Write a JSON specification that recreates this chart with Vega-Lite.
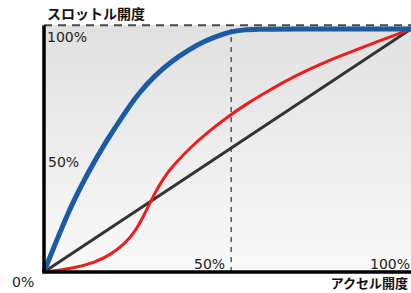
{
  "$schema": "https://vega.github.io/schema/vega-lite/v6.json",
  "width": 367,
  "height": 243,
  "autosize": {"type": "none"},
  "padding": {"left": 44, "top": 29, "right": 0, "bottom": 21},
  "background": "white",
  "config": {"view": {"stroke": null}},
  "datasets": {
    "curves": [
      {"s": "black", "x": 0, "y": 0}, {"s": "black", "x": 100, "y": 100},
      {"s": "red", "x": 0, "y": 0}, {"s": "red", "x": 8, "y": 1.5}, {"s": "red", "x": 14, "y": 4},
      {"s": "red", "x": 18, "y": 7}, {"s": "red", "x": 22, "y": 11.5}, {"s": "red", "x": 25, "y": 17},
      {"s": "red", "x": 27.5, "y": 24}, {"s": "red", "x": 30, "y": 32}, {"s": "red", "x": 32.5, "y": 38.5},
      {"s": "red", "x": 35, "y": 43.5}, {"s": "red", "x": 40, "y": 51.5}, {"s": "red", "x": 45, "y": 58},
      {"s": "red", "x": 50, "y": 63.8}, {"s": "red", "x": 55, "y": 69}, {"s": "red", "x": 60, "y": 73.5},
      {"s": "red", "x": 66, "y": 78.8}, {"s": "red", "x": 72, "y": 83.3}, {"s": "red", "x": 78, "y": 87.3},
      {"s": "red", "x": 84, "y": 90.8}, {"s": "red", "x": 90, "y": 94.3}, {"s": "red", "x": 100, "y": 100},
      {"s": "blue", "x": 0, "y": 0}, {"s": "blue", "x": 2, "y": 7.6}, {"s": "blue", "x": 4, "y": 15},
      {"s": "blue", "x": 6, "y": 22.2}, {"s": "blue", "x": 8, "y": 29}, {"s": "blue", "x": 12, "y": 41},
      {"s": "blue", "x": 17, "y": 54}, {"s": "blue", "x": 22, "y": 65.5}, {"s": "blue", "x": 26, "y": 74},
      {"s": "blue", "x": 30, "y": 80.5}, {"s": "blue", "x": 34.5, "y": 86.5}, {"s": "blue", "x": 40, "y": 92},
      {"s": "blue", "x": 44, "y": 95.2}, {"s": "blue", "x": 48, "y": 97.6}, {"s": "blue", "x": 51, "y": 98.9},
      {"s": "blue", "x": 54, "y": 99.6}, {"s": "blue", "x": 58, "y": 99.9}, {"s": "blue", "x": 65, "y": 100},
      {"s": "blue", "x": 100, "y": 100}
    ],
    "frame": [{"x0": 0, "x1": 100, "y0": 0, "y1": 101.5}],
    "labels": [
      {"k": "y100", "x": 0, "y": 100, "t": "100%"},
      {"k": "y50", "x": 0, "y": 50, "t": "50%"},
      {"k": "y0", "x": 0, "y": 0, "t": "0%"},
      {"k": "x50", "x": 51, "y": 0, "t": "50%"},
      {"k": "x100", "x": 100, "y": 0, "t": "100%"},
      {"k": "ytitle", "x": 0, "y": 101.5, "t": "スロットル開度"},
      {"k": "xtitle", "x": 100, "y": 0, "t": "アクセル開度"}
    ]
  },
  "layer": [
    {
      "data": {"name": "frame"},
      "mark": {"type": "rect", "fill": {"gradient": "linear", "x1": 0, "y1": 0, "x2": 0, "y2": 1, "stops": [{"offset": 0, "color": "#e1e1e1"}, {"offset": 1, "color": "#f9f9f9"}]}},
      "encoding": {
        "x": {"field": "x0", "type": "quantitative", "scale": {"domain": [0, 100], "nice": false, "zero": false}, "axis": null},
        "x2": {"field": "x1"},
        "y": {"field": "y0", "type": "quantitative", "scale": {"domain": [0, 100], "nice": false, "zero": false}, "axis": null},
        "y2": {"field": "y1"}
      }
    },
    {
      "data": {"name": "frame"},
      "mark": {"type": "rule", "stroke": "#4a4a4a", "strokeWidth": 2, "strokeDash": [8, 6]},
      "encoding": {"x": {"field": "x0", "type": "quantitative"}, "x2": {"field": "x1"}, "y": {"field": "y1", "type": "quantitative"}}
    },
    {
      "data": {"values": [{"x": 51, "y0": 0, "y1": 100}]},
      "mark": {"type": "rule", "stroke": "#555555", "strokeWidth": 1.5, "strokeDash": [5, 5]},
      "encoding": {"x": {"field": "x", "type": "quantitative"}, "y": {"field": "y0", "type": "quantitative"}, "y2": {"field": "y1"}}
    },
    {
      "data": {"name": "curves"},
      "transform": [{"filter": "datum.s === 'black'"}],
      "mark": {"type": "line", "stroke": "#333333", "strokeWidth": 3},
      "encoding": {"x": {"field": "x", "type": "quantitative"}, "y": {"field": "y", "type": "quantitative"}}
    },
    {
      "data": {"name": "curves"},
      "transform": [{"filter": "datum.s === 'red'"}],
      "mark": {"type": "line", "stroke": "#ee1c1c", "strokeWidth": 3, "interpolate": "basis"},
      "encoding": {"x": {"field": "x", "type": "quantitative"}, "y": {"field": "y", "type": "quantitative"}}
    },
    {
      "data": {"name": "curves"},
      "transform": [{"filter": "datum.s === 'blue'"}],
      "mark": {"type": "line", "stroke": "#1a5aa6", "strokeWidth": 5, "interpolate": "basis"},
      "encoding": {"x": {"field": "x", "type": "quantitative"}, "y": {"field": "y", "type": "quantitative"}}
    },
    {
      "data": {"values": [{"x": 0, "y0": 0, "y1": 101.5}]},
      "mark": {"type": "rule", "stroke": "#000000", "strokeWidth": 3.5},
      "encoding": {"x": {"field": "x", "type": "quantitative"}, "y": {"field": "y0", "type": "quantitative"}, "y2": {"field": "y1"}}
    },
    {
      "data": {"values": [{"x0": -0.5, "x1": 100, "y": 0}]},
      "mark": {"type": "rule", "stroke": "#000000", "strokeWidth": 3.5},
      "encoding": {"x": {"field": "x0", "type": "quantitative"}, "x2": {"field": "x1"}, "y": {"field": "y", "type": "quantitative"}}
    },
    {
      "data": {"name": "labels"},
      "transform": [{"filter": "datum.k === 'y100'"}],
      "mark": {"type": "text", "font": "DejaVu Sans", "fontSize": 14, "fill": "#222222", "align": "left", "baseline": "middle", "dx": 3, "dy": 9},
      "encoding": {"x": {"field": "x", "type": "quantitative"}, "y": {"field": "y", "type": "quantitative"}, "text": {"field": "t"}}
    },
    {
      "data": {"name": "labels"},
      "transform": [{"filter": "datum.k === 'y50'"}],
      "mark": {"type": "text", "font": "DejaVu Sans", "fontSize": 14, "fill": "#222222", "align": "left", "baseline": "middle", "dx": 4, "dy": 12},
      "encoding": {"x": {"field": "x", "type": "quantitative"}, "y": {"field": "y", "type": "quantitative"}, "text": {"field": "t"}}
    },
    {
      "data": {"name": "labels"},
      "transform": [{"filter": "datum.k === 'y0'"}],
      "mark": {"type": "text", "font": "DejaVu Sans", "fontSize": 14, "fill": "#222222", "align": "left", "baseline": "middle", "dx": -32, "dy": 11},
      "encoding": {"x": {"field": "x", "type": "quantitative"}, "y": {"field": "y", "type": "quantitative"}, "text": {"field": "t"}}
    },
    {
      "data": {"name": "labels"},
      "transform": [{"filter": "datum.k === 'x50'"}],
      "mark": {"type": "text", "font": "DejaVu Sans", "fontSize": 14, "fill": "#222222", "align": "right", "baseline": "middle", "dx": -6, "dy": -7},
      "encoding": {"x": {"field": "x", "type": "quantitative"}, "y": {"field": "y", "type": "quantitative"}, "text": {"field": "t"}}
    },
    {
      "data": {"name": "labels"},
      "transform": [{"filter": "datum.k === 'x100'"}],
      "mark": {"type": "text", "font": "DejaVu Sans", "fontSize": 14, "fill": "#222222", "align": "right", "baseline": "middle", "dx": -1, "dy": -7},
      "encoding": {"x": {"field": "x", "type": "quantitative"}, "y": {"field": "y", "type": "quantitative"}, "text": {"field": "t"}}
    },
    {
      "data": {"name": "labels"},
      "transform": [{"filter": "datum.k === 'ytitle'"}],
      "mark": {"type": "text", "font": "Noto Sans CJK JP", "fontSize": 14, "fontWeight": "bold", "fill": "#111111", "align": "left", "baseline": "middle", "dx": 3, "dy": -10},
      "encoding": {"x": {"field": "x", "type": "quantitative"}, "y": {"field": "y", "type": "quantitative"}, "text": {"field": "t"}}
    },
    {
      "data": {"name": "labels"},
      "transform": [{"filter": "datum.k === 'xtitle'"}],
      "mark": {"type": "text", "font": "Noto Sans CJK JP", "fontSize": 13, "fontWeight": "bold", "fill": "#111111", "align": "right", "baseline": "middle", "dx": -3, "dy": 12},
      "encoding": {"x": {"field": "x", "type": "quantitative"}, "y": {"field": "y", "type": "quantitative"}, "text": {"field": "t"}}
    }
  ]
}
